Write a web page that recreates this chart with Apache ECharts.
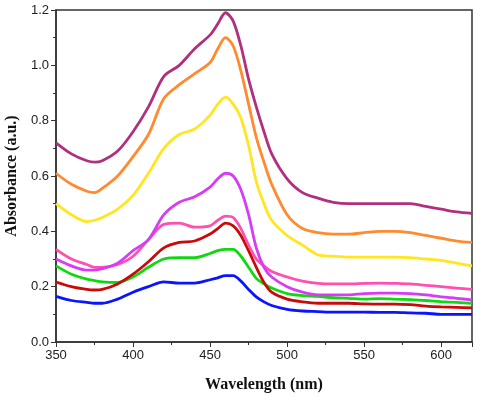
<!DOCTYPE html>
<html>
<head>
<meta charset="utf-8">
<script src="https://cdn.jsdelivr.net/npm/echarts@6/dist/echarts.min.js"></script>
<style>
  html, body { margin: 0; padding: 0; background: #fff; }
  #chart { width: 480px; height: 398px; }
</style>
</head>
<body>
<div id="chart"></div>
<script>
// wavelengths (nm) at which the curves were read
const wavelength = [350, 360, 370, 375, 380, 390, 400, 410, 420, 430, 440, 450, 455, 460, 465, 470, 475, 480, 485, 490, 500, 510, 520, 530, 540, 550, 560, 570, 580, 590, 600, 610, 620];

const purple = [0.72, 0.68, 0.655, 0.65, 0.655, 0.69, 0.76, 0.85, 0.96, 1.00, 1.06, 1.11, 1.15, 1.19, 1.16, 1.07, 0.95, 0.85, 0.76, 0.68, 0.59, 0.54, 0.52, 0.505, 0.50, 0.50, 0.50, 0.50, 0.50, 0.49, 0.48, 0.47, 0.465];
const orange = [0.61, 0.57, 0.545, 0.54, 0.555, 0.60, 0.67, 0.75, 0.88, 0.93, 0.97, 1.01, 1.06, 1.10, 1.07, 0.98, 0.86, 0.74, 0.65, 0.57, 0.46, 0.41, 0.395, 0.39, 0.39, 0.395, 0.40, 0.40, 0.395, 0.385, 0.375, 0.365, 0.36];
const yellow = [0.50, 0.46, 0.435, 0.44, 0.45, 0.48, 0.53, 0.61, 0.70, 0.75, 0.77, 0.82, 0.86, 0.885, 0.86, 0.81, 0.71, 0.58, 0.50, 0.44, 0.385, 0.35, 0.315, 0.31, 0.307, 0.307, 0.307, 0.307, 0.305, 0.30, 0.295, 0.285, 0.275];
const violet = [0.30, 0.275, 0.26, 0.26, 0.265, 0.285, 0.33, 0.37, 0.46, 0.505, 0.525, 0.56, 0.59, 0.61, 0.60, 0.55, 0.46, 0.34, 0.27, 0.235, 0.20, 0.18, 0.17, 0.17, 0.17, 0.175, 0.177, 0.177, 0.175, 0.17, 0.163, 0.158, 0.152];
const pink = [0.335, 0.30, 0.28, 0.27, 0.27, 0.28, 0.31, 0.37, 0.425, 0.43, 0.415, 0.42, 0.44, 0.455, 0.45, 0.41, 0.35, 0.30, 0.275, 0.255, 0.235, 0.22, 0.212, 0.21, 0.21, 0.212, 0.213, 0.212, 0.21, 0.205, 0.20, 0.195, 0.19];
const red = [0.217, 0.20, 0.19, 0.188, 0.19, 0.21, 0.245, 0.29, 0.34, 0.36, 0.365, 0.39, 0.41, 0.43, 0.42, 0.385, 0.33, 0.27, 0.215, 0.18, 0.155, 0.145, 0.14, 0.14, 0.14, 0.138, 0.137, 0.137, 0.135, 0.13, 0.127, 0.125, 0.123];
const green = [0.275, 0.245, 0.227, 0.222, 0.217, 0.215, 0.235, 0.27, 0.30, 0.305, 0.305, 0.32, 0.33, 0.335, 0.335, 0.31, 0.27, 0.23, 0.21, 0.195, 0.175, 0.168, 0.165, 0.16, 0.158, 0.155, 0.157, 0.155, 0.153, 0.15, 0.146, 0.143, 0.14];
const blue = [0.165, 0.15, 0.143, 0.14, 0.14, 0.155, 0.18, 0.20, 0.217, 0.213, 0.213, 0.225, 0.232, 0.24, 0.24, 0.22, 0.19, 0.163, 0.145, 0.132, 0.118, 0.112, 0.11, 0.108, 0.108, 0.108, 0.107, 0.107, 0.105, 0.104, 0.10, 0.10, 0.10];

// drawn bottom-up so the upper curves sit on top
const curves = [
    {name: 'blue', data: blue, color: '#0a14ff'},
    {name: 'green', data: green, color: '#10d810'},
    {name: 'red', data: red, color: '#c80a0a'},
    {name: 'pink', data: pink, color: '#ff4fb0'},
    {name: 'violet', data: violet, color: '#d63cf5'},
    {name: 'yellow', data: yellow, color: '#ffe61e'},
    {name: 'orange', data: orange, color: '#ff8a30'},
    {name: 'purple', data: purple, color: '#b0307f'}
];

const axisColor = '#333';
const labelFont = {fontFamily: 'Liberation Sans, Arial, sans-serif', fontSize: 13, color: '#222'};
const titleFont = {fontFamily: 'Liberation Serif, Times New Roman, serif', fontSize: 16, fontWeight: 'bold', color: '#111'};

const chart = echarts.init(document.getElementById('chart'), null, {renderer: 'canvas'});

const option = {
    animation: false,
    grid: {
        left: 56, right: 8, top: 10, bottom: 56,
        outerBoundsMode: 'none',
        containLabel: false,
        show: true, borderColor: axisColor, borderWidth: 1.5
    },
    xAxis: {
        type: 'value',
        min: 350, max: 620, interval: 50,
        name: 'Wavelength (nm)',
        nameLocation: 'middle',
        nameGap: 35,
        nameTextStyle: titleFont,
        axisLine: {lineStyle: {color: axisColor, width: 1.5}},
        axisTick: {inside: false, length: 5, lineStyle: {color: axisColor}},
        minorTick: {show: true, splitNumber: 2, length: 3, lineStyle: {color: axisColor}},
        axisLabel: Object.assign({margin: 7, showMaxLabel: false}, labelFont),
        splitLine: {show: false}
    },
    yAxis: {
        type: 'value',
        min: 0, max: 1.2, interval: 0.2,
        name: 'Absorbance (a.u.)',
        nameLocation: 'middle',
        nameGap: 34,
        nameTextStyle: titleFont,
        axisLine: {show: true, lineStyle: {color: axisColor, width: 1.5}},
        axisTick: {show: true, inside: false, length: 5, lineStyle: {color: axisColor}},
        minorTick: {show: true, splitNumber: 2, length: 3, lineStyle: {color: axisColor}},
        axisLabel: Object.assign({margin: 7, formatter: v => v.toFixed(1)}, labelFont),
        splitLine: {show: false}
    },
    series: curves.map(c => ({
        name: c.name,
        type: 'line',
        data: wavelength.map((w, i) => [w, c.data[i]]),
        smooth: 0.3,
        showSymbol: false,
        lineStyle: {color: c.color, width: 2.8},
        itemStyle: {color: c.color}
    }))
};

chart.setOption(option);
</script>
</body>
</html>
